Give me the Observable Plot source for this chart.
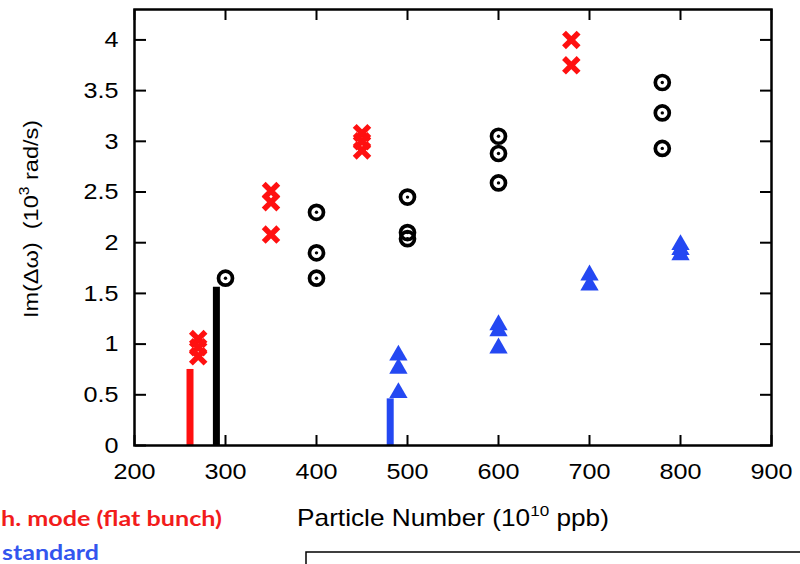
<!DOCTYPE html>
<html>
<head>
<meta charset="utf-8">
<script src="https://cdn.jsdelivr.net/npm/d3@7"></script>
<script src="https://cdn.jsdelivr.net/npm/@observablehq/plot@0.6"></script>
<style>
  html, body { margin: 0; padding: 0; background: #fff; }
  #chart { width: 800px; height: 564px; overflow: hidden; }
</style>
</head>
<body>
<div id="chart"></div>
<script>
// ---- data ----
const flatN  = [270, 270, 270, 350, 350, 350, 450, 450, 450, 680, 680];
const flatIm = [1.05, 0.97, 0.88, 2.51, 2.40, 2.08, 3.08, 3.00, 2.91, 4.00, 3.75];

const circN  = [300, 400, 400, 400, 500, 500, 500, 600, 600, 600, 780, 780, 780];
const circIm = [1.65, 2.30, 1.90, 1.65, 2.45, 2.10, 2.04, 3.05, 2.88, 2.59, 3.58, 3.28, 2.93];

const stdN   = [490, 490, 490, 600, 600, 600, 700, 700, 800, 800, 800];
const stdIm  = [0.89, 0.76, 0.52, 1.19, 1.13, 0.96, 1.68, 1.58, 1.98, 1.93, 1.88];

const barN   = [261, 290, 481];
const barIm  = [0.75, 1.56, 0.46];
const barSeries = ["flat", "circle", "standard"];

const xTicks = [200, 300, 400, 500, 600, 700, 800, 900];
const yTicks = [0, 0.5, 1, 1.5, 2, 2.5, 3, 3.5, 4];

const legendTexts = ["h. mode (flat bunch)", "standard"];

// ---- build tables ----
const flat = flatN.map((n, i) => ({n, im: flatIm[i]}));
const circ = circN.map((n, i) => ({n, im: circIm[i]}));
const std  = stdN.map((n, i) => ({n, im: stdIm[i]}));
const bars = barN.map((n, i) => ({n, im: barIm[i], s: barSeries[i]}));

const RED = "#ff1010", BLUE = "#2448f2", BLK = "#000";
const barColor = {flat: RED, circle: BLK, standard: BLUE};

const tickOpts = {tickSize: 11, strokeWidth: 2, fill: "none", label: null};

const svg = Plot.plot({
  width: 800,
  height: 564,
  marginLeft: 134,
  marginRight: 29,
  marginTop: 9,
  marginBottom: 119,
  style: {fontFamily: "'Liberation Sans', Arial, sans-serif", fontSize: "22.5px", background: "#fff", color: "#000"},
  x: {domain: [200, 900]},
  y: {domain: [0, 4.3]},
  marks: [
    // labels
    Plot.axisX({ticks: xTicks, anchor: "bottom", tickSize: 0, tickPadding: 18, label: null, tickFormat: d => String(d)}),
    Plot.axisY({ticks: yTicks, anchor: "left", tickSize: 0, tickPadding: 16, label: null, tickFormat: d => String(d)}),
    // inward ticks on all four sides
    Plot.axisX({ticks: xTicks, anchor: "top", frameAnchor: "bottom", ...tickOpts}),
    Plot.axisX({ticks: xTicks, anchor: "bottom", frameAnchor: "top", ...tickOpts}),
    Plot.axisY({ticks: yTicks, anchor: "right", frameAnchor: "left", ...tickOpts}),
    Plot.axisY({ticks: yTicks, anchor: "left", frameAnchor: "right", ...tickOpts}),
    // bars
    Plot.ruleX(bars, {x: "n", y1: 0, y2: "im", stroke: d => barColor[d.s], strokeWidth: 7}),
    // series
    Plot.dot(circ, {x: "n", y: "im", r: 7, stroke: BLK, strokeWidth: 3.7, fill: "none"}),
    Plot.dot(circ, {x: "n", y: "im", r: 1.7, fill: BLK, stroke: "none"}),
    Plot.dot(flat, {x: "n", y: "im", symbol: "times", r: 6.7, stroke: RED, strokeWidth: 5.5}),
    Plot.dot(std, {x: "n", y: "im", symbol: "triangle", r: 6.8, fill: BLUE, stroke: "none"}),
    Plot.frame({stroke: BLK, strokeWidth: 2.5})
  ]
});

document.getElementById("chart").appendChild(svg);

const s = d3.select(svg);
// widen tick labels to match the reference's wider sans face
s.selectAll('g[aria-label="x-axis tick label"] text, g[aria-label="y-axis tick label"] text')
  .attr("transform", function () { return (this.getAttribute("transform") || "") + " scale(1.12,1)"; });

// x-axis title
const xt = s.append("text")
  .attr("transform", "translate(453,526) scale(1.14,1)")
  .attr("text-anchor", "middle")
  .attr("font-family", "'Liberation Sans', Arial, sans-serif")
  .attr("font-size", 23)
  .attr("fill", BLK);
xt.append("tspan").text("Particle Number (10");
xt.append("tspan").attr("font-size", 15).attr("dy", -10).text("10");
xt.append("tspan").attr("dy", 10).text(" ppb)");

// y-axis title
const yt = s.append("text")
  .attr("transform", "translate(38,219) rotate(-90) scale(1.12,1)")
  .attr("text-anchor", "middle")
  .attr("font-family", "'Liberation Sans', Arial, sans-serif")
  .attr("font-size", 21)
  .attr("fill", BLK);
yt.append("tspan").text("Im(\u0394\u03c9)\u00a0\u00a0(10");
yt.append("tspan").attr("font-size", 14).attr("dy", -9).text("3");
yt.append("tspan").attr("dy", 9).text(" rad/s)");

// legend texts (partially cut at the left, as in the reference)
s.append("text")
  .attr("x", 1).attr("y", 526)
  .attr("text-anchor", "start")
  .attr("font-family", "Lato, 'Open Sans', sans-serif")
  .attr("font-weight", 700)
  .attr("font-size", 20.5)
  .attr("fill", "#f21c1c")
  .attr("textLength", 221).attr("lengthAdjust", "spacingAndGlyphs")
  .text(legendTexts[0]);
s.append("text")
  .attr("x", 2).attr("y", 560)
  .attr("text-anchor", "start")
  .attr("font-family", "Lato, 'Open Sans', sans-serif")
  .attr("font-weight", 700)
  .attr("font-size", 20.5)
  .attr("fill", "#3355ee")
  .attr("textLength", 97).attr("lengthAdjust", "spacingAndGlyphs")
  .text(legendTexts[1]);

// bottom-right box outline
s.append("rect")
  .attr("x", 306).attr("y", 552)
  .attr("width", 520).attr("height", 40)
  .attr("fill", "none").attr("stroke", BLK).attr("stroke-width", 1.5);
</script>
</body>
</html>
